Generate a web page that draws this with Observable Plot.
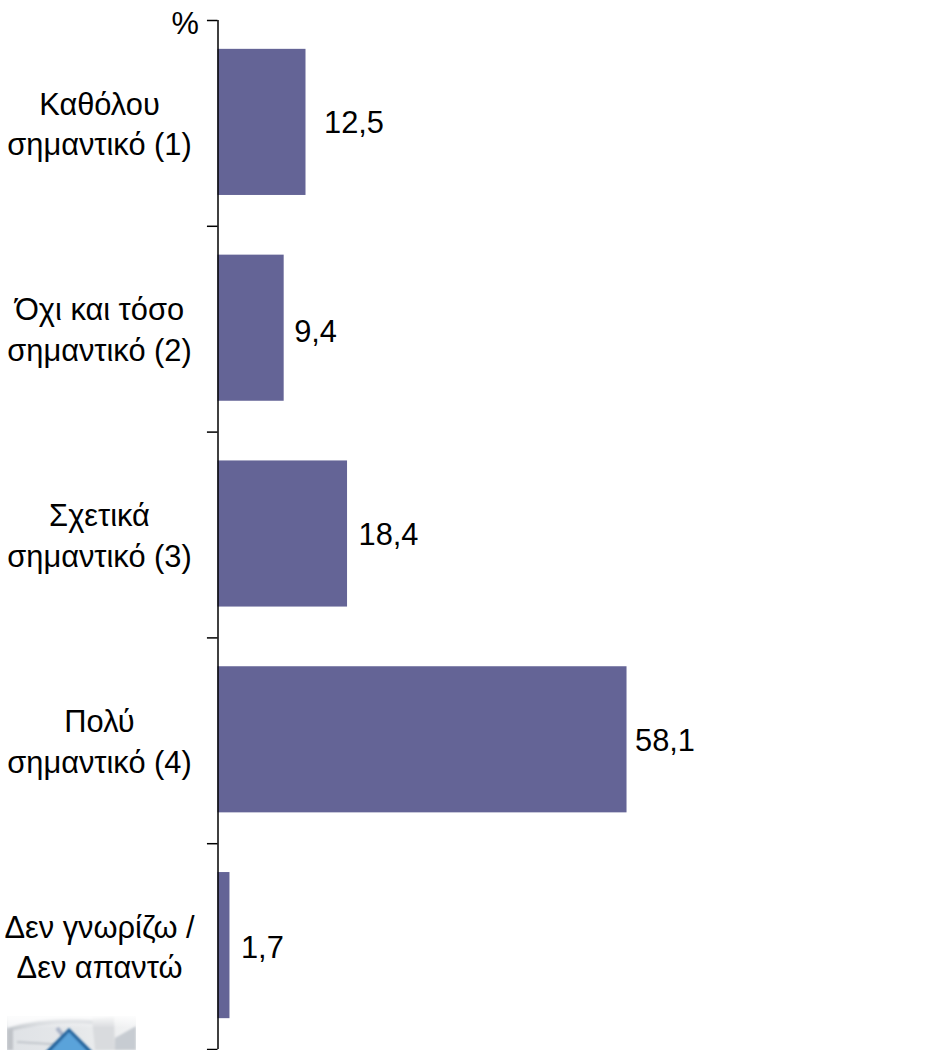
<!DOCTYPE html>
<html>
<head>
<meta charset="utf-8">
<script src="https://cdn.jsdelivr.net/npm/d3@7"></script>
<script src="https://cdn.jsdelivr.net/npm/@observablehq/plot@0.6"></script>
<style>
html,body{margin:0;padding:0;background:#fff;}
#chart{position:relative;width:929px;height:1050px;overflow:hidden;}
#chart > svg.plot{display:block;background:#fff;}
#logo{position:absolute;left:7px;top:1016px;width:129px;height:34px;overflow:hidden;}
</style>
</head>
<body>
<div id="chart"></div>
<script>
const categories = ["Καθόλου\nσημαντικό (1)", "Όχι και τόσο\nσημαντικό (2)", "Σχετικά\nσημαντικό (3)", "Πολύ\nσημαντικό (4)", "Δεν γνωρίζω /\nΔεν απαντώ"];
const values = [12.5, 9.4, 18.4, 58.1, 1.7];
const valueLabels = ["12,5", "9,4", "18,4", "58,1", "1,7"];
const unitLabel = "%";

const barColor = "#646496";
const fontFamily = "'Liberation Sans', Arial, sans-serif";
const fontSize = 30.8;
const top_ = 20, bottom_ = 1049;
const step = (bottom_ - top_) / categories.length;
const labelDx = [18, 10, 11, 8, 11];
const labelDy = [0, 3, 0, 0, 2];

const data = categories.map((c, i) => ({c, v: values[i], t: valueLabels[i], dx: labelDx[i], dy: labelDy[i]}));

const plot = Plot.plot({
  width: 929,
  height: 1050,
  marginLeft: 217.5,
  marginRight: 7.5,
  marginTop: top_,
  marginBottom: 1050 - bottom_,
  style: {fontFamily, background: "#fff"},
  x: {domain: [0, 100], axis: null},
  y: {domain: categories, axis: null, paddingInner: 0.29, paddingOuter: 0.145, align: 0.5, round: false},
  marks: [
    Plot.barX(data, {x: "v", y: "c", fill: barColor, dy: -1}),
    Plot.ruleX([0], {stroke: "#000", strokeWidth: 1.5}),
    Plot.ruleY(categories, {y: d => d, x1: -1.5, x2: 0, dy: -step / 2, stroke: "#000", strokeWidth: 1.5}),
    Plot.ruleY(categories.slice(-1), {y: d => d, x1: -1.5, x2: 0, dy: step / 2, stroke: "#000", strokeWidth: 1.5}),
    Plot.text(categories, {y: d => d, x: 0, text: d => d, dx: -118.5, dy: -1.5, textAnchor: "middle", lineAnchor: "middle", lineHeight: 1.32, fontSize, fill: "#000"}),
    ...data.map(d => Plot.text([d], {x: "v", y: "c", text: "t", dx: d.dx, dy: d.dy, textAnchor: "start", fontSize, fill: "#000"})),
    Plot.text([unitLabel], {frameAnchor: "top-left", text: d => d, dx: -46.5, dy: -8, textAnchor: "start", lineAnchor: "top", fontSize, fill: "#000"})
  ]
});
const chart = document.getElementById("chart");
chart.append(plot);
const logo = document.createElement("div");
logo.id = "logo";
logo.innerHTML = `<svg xmlns="http://www.w3.org/2000/svg" width="129" height="34" viewBox="0 0 129 34">
<defs><linearGradient id="lg" x1="0" x2="1" y1="0" y2="0"><stop offset="0" stop-color="#dfe2e6"/><stop offset=".55" stop-color="#e6e8ea"/><stop offset="1" stop-color="#f2f3f4"/></linearGradient>
<linearGradient id="fade" x1="0" x2="0" y1="0" y2="1"><stop offset="0" stop-color="#fff" stop-opacity=".85"/><stop offset="1" stop-color="#fff" stop-opacity="0"/></linearGradient>
<filter id="bl"><feGaussianBlur stdDeviation="0.8"/></filter></defs>
<rect width="129" height="34" fill="url(#lg)"/>
<g filter="url(#bl)">
<path d="M0 12 Q40 -2 85 3 L85 0 L0 0Z" fill="#f4f5f7"/>
<path d="M0 14 Q40 2 90 6" fill="none" stroke="#c9cdd2" stroke-width="4"/>
<path d="M0 14 L0 34 L6 34 L6 12Z" fill="#bfc3c8"/>
<path d="M85 3 L107 0 L108 34 L88 34Z" fill="#d9dbde"/>
<path d="M108 22 L129 10 L129 34 L108 34Z" fill="#c7ccd2"/>
<path d="M10 26 L60 29" stroke="#b9bec4" stroke-width="1.5"/>
<path d="M50 12 L58 22" stroke="#a9b3c8" stroke-width="4"/>
</g>
<rect width="129" height="12" fill="url(#fade)"/>
<g filter="url(#bl)">
<path d="M62 12 L36 38 L88 38Z" fill="#1f5e99"/>
<path d="M62 16 L41 38 L83 38Z" fill="#5aa3da"/>
</g></svg>`;
chart.append(logo);
</script>
</body>
</html>
